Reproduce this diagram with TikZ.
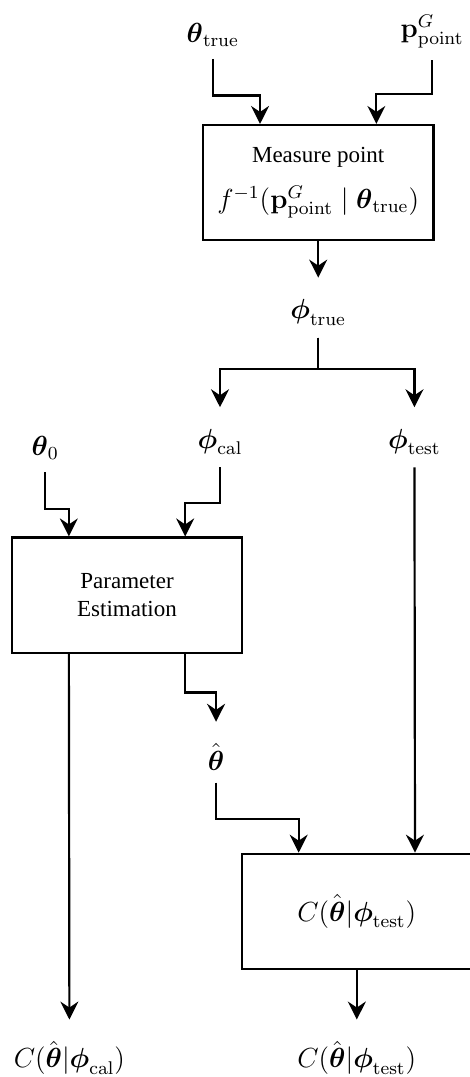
\documentclass[tikz,border=0pt]{standalone}
\usepackage[no-math]{fontspec}
\setmainfont{Liberation Serif}
\usepackage{amsmath, amssymb}
\usetikzlibrary{arrows.meta,calc}

\newcommand{\mathsz}{\fontsize{11.5}{14}\selectfont}

\begin{document}
\begin{tikzpicture}
  [scale=.1,line width=.95pt,>={Stealth[length=7.8pt,width=7.8pt,inset=2.6pt]},
   blk/.style={draw,rectangle,minimum width=3.52cm,minimum height=1.76cm,align=center},
   var/.style={inner sep=5pt,font=\mathsz},
   tovar/.style={->,shorten >=4pt}]
  \useasboundingbox (0,0) rectangle (71.64,164.5);

  \node[var] (thtrue) at (32.5,159.2) {$\boldsymbol{\theta}_{\mathrm{true}}$};
  \node[var] (ppoint) at (66,159.7) {$\mathbf{p}^G_{\mathrm{point}}$};
  \node[blk] (meas) at (48.6,136.6) {Measure point\\[8pt]
    {\mathsz $f^{-1}(\mathbf{p}^G_{\mathrm{point}} \mid \boldsymbol{\theta}_{\mathrm{true}})$}};
  \node[var] (phitrue) at (48.6,116.8) {$\boldsymbol{\phi}_{\mathrm{true}}$};
  \node[var] (phical) at (33.6,97) {$\boldsymbol{\phi}_{\mathrm{cal}}$};
  \node[var] (phitest) at (63.3,97) {$\boldsymbol{\phi}_{\mathrm{test}}$};
  \node[var] (th0) at (6.9,96.1) {$\boldsymbol{\theta}_0$};
  \node[blk] (pe) at (19.4,73.6) {Parameter\\Estimation};
  \node[var] (thhat) at (33,48.9) {$\hat{\boldsymbol{\theta}}$};
  \node[blk,font=\mathsz] (test) at (54.5,25.3) {$C(\hat{\boldsymbol{\theta}}|\boldsymbol{\phi}_{\mathrm{test}})$};
  \node[var] (outcal) at (10.6,2.9) {$C(\hat{\boldsymbol{\theta}}|\boldsymbol{\phi}_{\mathrm{cal}})$};
  \node[var] (outtest) at (54.5,2.9) {$C(\hat{\boldsymbol{\theta}}|\boldsymbol{\phi}_{\mathrm{test}})$};

  % inputs of the blocks
  \draw[->] (thtrue.south) -- ++(0,-5.6) -| ($(meas.north)!.5!(meas.north west)$);
  \draw[->] (ppoint.south) -- ++(0,-5.1) -| ($(meas.north)!.5!(meas.north east)$);
  \draw[->] (th0.south) -- ++(0,-5.6) -| ($(pe.north)!.5!(pe.north west)$);
  \draw[->] (phical.south) -- ++(0,-5.4) -| ($(pe.north)!.5!(pe.north east)$);
  \draw[->] (thhat.south) -- ++(0,-5.6) -| ($(test.north)!.5!(test.north west)$);
  \draw[->] (phitest.south) -- ($(test.north)!.5!(test.north east)$);

  % outputs
  \draw[tovar] (meas.south) -- (phitrue.north);
  \foreach \to in {phical,phitest}
    \draw[tovar] (phitrue.south) -- ++(0,-4.8) -| (\to.north);
  \draw[tovar] ($(pe.south)!.5!(pe.south east)$) -- ++(0,-5.9) -| (thhat.north);
  \draw[tovar] ($(pe.south)!.5!(pe.south west)$) -- (outcal.north);
  \draw[tovar] (test.south) -- (outtest.north);

\end{tikzpicture}
\end{document}
